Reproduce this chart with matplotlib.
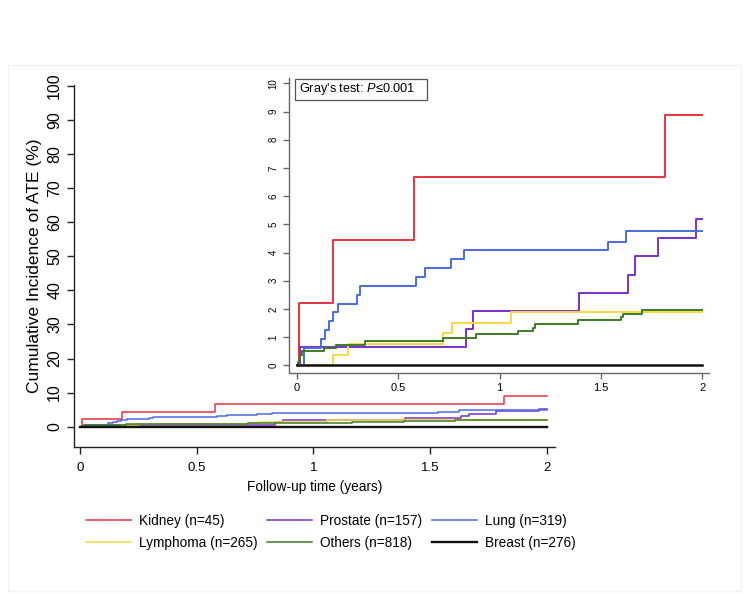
import matplotlib
matplotlib.use("Agg")
import matplotlib.pyplot as plt
from matplotlib.patches import Rectangle


# time points (years) and cumulative incidence (%)
kidney_t = [0, 0.01, 0.18, 0.578, 1.816, 2.0]
kidney_y = [0, 2.22, 4.44, 6.67, 8.89, 8.89]

prostate_t = [0, 0.017, 0.835, 0.87, 1.392, 1.632, 1.668, 1.781, 1.969, 2.0]
prostate_y = [0, 0.64, 1.29, 1.93, 2.57, 3.22, 3.87, 4.52, 5.20, 5.20]

lung_t = [0, 0.036, 0.119, 0.14, 0.157, 0.177, 0.203, 0.295, 0.313,
          0.587, 0.632, 0.759, 0.823, 1.533, 1.624, 2.0]
lung_y = [0, 0.63, 0.94, 1.25, 1.57, 1.88, 2.19, 2.51, 2.82,
          3.13, 3.45, 3.76, 4.08, 4.39, 4.76, 4.76]

lymphoma_t = [0, 0.177, 0.252, 0.72, 0.765, 1.057, 2.0]
lymphoma_y = [0, 0.38, 0.75, 1.13, 1.51, 1.89, 1.89]

others_t = [0, 0.004, 0.01, 0.017, 0.027, 0.137, 0.195, 0.338, 0.72,
            0.885, 1.093, 1.167, 1.175, 1.389, 1.6, 1.607, 1.701, 2.0]
others_y = [0, 0.12, 0.24, 0.37, 0.49, 0.61, 0.73, 0.86, 0.98,
            1.10, 1.22, 1.34, 1.47, 1.59, 1.71, 1.83, 1.96, 1.96]

breast_t = [0, 2.0]
breast_y = [0, 0]

labels = ["Kidney (n=45)", "Prostate (n=157)", "Lung (n=319)",
          "Lymphoma (n=265)", "Others (n=818)", "Breast (n=276)"]
colors = ["#e8333d", "#7a2fd0", "#4a6be3", "#f5d842", "#3c7c22", "#111111"]

x_ticks = [0, 0.5, 1, 1.5, 2]
x_tick_labels = ["0", "0.5", "1", "1.5", "2"]
main_y_ticks = list(range(0, 101, 10))
inset_y_ticks = list(range(0, 11))

plt.rcParams["font.family"] = ["Liberation Sans", "DejaVu Sans"]
plt.rcParams["mathtext.fontset"] = "custom"
plt.rcParams["mathtext.rm"] = "Liberation Sans"
plt.rcParams["mathtext.it"] = "Liberation Sans:italic"


def style_axes(ax, tick_len, spine_color):
    for side in ("top", "right"):
        ax.spines[side].set_visible(False)
    for side in ("left", "bottom"):
        ax.spines[side].set_color(spine_color)
        ax.spines[side].set_linewidth(1.0)
    ax.tick_params(direction="out", length=tick_len, width=1.0, color=spine_color)


def main():
    series = [
        (kidney_t, kidney_y),
        (prostate_t, prostate_y),
        (lung_t, lung_y),
        (lymphoma_t, lymphoma_y),
        (others_t, others_y),
        (breast_t, breast_y),
    ]

    fig = plt.figure(figsize=(7.53, 5.94), dpi=100)

    # faint outer frame
    fig.patches.append(Rectangle((8 / 753, 3 / 594), 733 / 753, 526 / 594,
                                 transform=fig.transFigure, fill=False,
                                 edgecolor="#eef4f4", linewidth=1.0))

    ax = fig.add_axes([0.0983, 0.248, 0.6388, 0.6089])
    handles = []
    for (t, y), lab, col in zip(series, labels, colors):
        lw = 1.7 if col == "#111111" else 1.1
        h, = ax.step(t, y, where="post", color=col, lw=lw, label=lab)
        handles.append(h)

    ax.set_xlim(-0.0257, 2.0357)
    ax.set_ylim(-5.87, 100.3)
    ax.set_xticks(x_ticks)
    ax.set_xticklabels(x_tick_labels, fontsize=9.5)
    ax.set_yticks(main_y_ticks)
    ax.set_yticklabels([str(v) for v in main_y_ticks], fontsize=11.5,
                       rotation=90, va="center")
    style_axes(ax, 5, "#222222")
    ax.tick_params(axis="x", pad=6)
    ax.set_xlabel("Follow-up time (years)", fontsize=9.8, labelpad=4)
    ax.set_ylabel("Cumulative Incidence of ATE (%)", fontsize=12.5, labelpad=4)

    # inset zoom on 0-10 %
    ax_in = fig.add_axes([0.3838, 0.3726, 0.5578, 0.4961])
    for (t, y), col in zip(series, colors):
        lw = 1.8 if col == "#111111" else 1.4
        ax_in.step(t, y, where="post", color=col, lw=lw)
    ax_in.set_xlim(-0.038, 2.033)
    ax_in.set_ylim(-0.262, 10.19)
    ax_in.set_xticks(x_ticks)
    ax_in.set_xticklabels(x_tick_labels, fontsize=8)
    ax_in.set_yticks(inset_y_ticks)
    ax_in.set_yticklabels([str(v) for v in inset_y_ticks], fontsize=7,
                          rotation=90, va="center")
    style_axes(ax_in, 4, "#666666")
    ax_in.patch.set_alpha(0)

    # Gray's test box
    ax_in.add_patch(Rectangle((0.0143, 0.9253), 0.3143, 0.0713,
                              transform=ax_in.transAxes, facecolor="white",
                              edgecolor="#555555", linewidth=0.9,
                              clip_on=False, zorder=5))
    ax_in.text(0.0238, 0.961, "Gray's test: $\\mathit{P}$\u22640.001",
               transform=ax_in.transAxes, fontsize=9.2, va="center",
               ha="left", zorder=6)

    order = [0, 3, 1, 4, 2, 5]
    fig.legend([handles[i] for i in order], [labels[i] for i in order],
               ncol=3, loc="upper left", bbox_to_anchor=(0.1142, 0.1355),
               frameon=False, prop={"size": 9.8},
               handlelength=3.3, handletextpad=0.6, columnspacing=0.7,
               labelspacing=0.6, borderaxespad=0, borderpad=0)

    fig.savefig("out.png", dpi=100)
    plt.close(fig)


if __name__ == "__main__":
    main()
